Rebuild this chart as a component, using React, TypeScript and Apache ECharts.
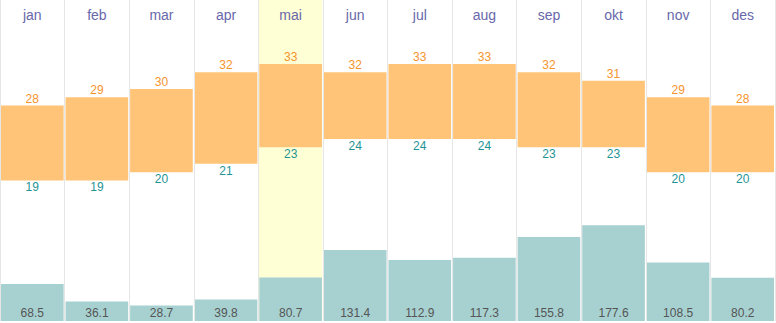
import React, { useEffect, useRef } from "react";
import * as echarts from "echarts";

const months = ["jan", "feb", "mar", "apr", "mai", "jun", "jul", "aug", "sep", "okt", "nov", "des"];
const maxTemp = [28, 29, 30, 32, 33, 32, 33, 33, 32, 31, 29, 28];
const minTemp = [19, 19, 20, 21, 23, 24, 24, 24, 23, 23, 20, 20];
const precip = [68.5, 36.1, 28.7, 39.8, 80.7, 131.4, 112.9, 117.3, 155.8, 177.6, 108.5, 80.2];
const highlightMonth = "mai";

const TEMP_MIN = 2.1;
const TEMP_MAX = 40.7;
const PRECIP_MAX = 595;

const FONT = "Arial, 'Liberation Sans', sans-serif";

export default function App() {
  const ref = useRef<HTMLDivElement>(null);

  useEffect(() => {
    if (!ref.current) return;
    const chart = echarts.init(ref.current, undefined, { renderer: "svg" });
    const range = maxTemp.map((v, i) => v - minTemp[i]);
    const highlight = months.map((m) => (m === highlightMonth ? PRECIP_MAX : "-"));

    chart.setOption({
      animation: false,
      textStyle: { fontFamily: FONT },
      grid: { left: 0, right: 1, top: 0, bottom: 2 },
      xAxis: [
        {
          type: "category",
          data: months,
          position: "top",
          axisLine: { show: false },
          axisTick: { show: false },
          axisLabel: {
            inside: true,
            margin: 8,
            fontSize: 14,
            color: "#6868aa",
            fontFamily: FONT,
          },
          splitLine: { show: true, lineStyle: { color: "#e6e6e6", width: 1 } },
          z: 10,
        },
        {
          type: "category",
          data: months,
          show: false,
        },
      ],
      yAxis: [
        { type: "value", min: TEMP_MIN, max: TEMP_MAX, show: false, splitLine: { show: false } },
        { type: "value", min: 0, max: PRECIP_MAX, show: false, splitLine: { show: false } },
      ],
      series: [
        {
          type: "bar",
          xAxisIndex: 1,
          yAxisIndex: 1,
          data: highlight,
          barWidth: "98.4%",
          itemStyle: { color: "#ffffd6" },
          silent: true,
          z: 1,
        },
        {
          type: "bar",
          name: "precip",
          xAxisIndex: 0,
          yAxisIndex: 1,
          data: precip,
          barWidth: "97%",
          barGap: "-100%",
          itemStyle: { color: "#a7d1d1" },
          label: {
            show: true,
            position: "insideBottom",
            distance: 2,
            fontSize: 12,
            color: "#555555",
            fontFamily: FONT,
          },
          z: 2,
        },
        {
          type: "bar",
          name: "base",
          xAxisIndex: 0,
          yAxisIndex: 0,
          stack: "t",
          data: minTemp,
          barWidth: "97%",
          itemStyle: { color: "rgba(0,0,0,0)" },
          label: {
            show: true,
            position: "insideTop",
            distance: 1,
            fontSize: 12,
            color: "#1f9494",
            fontFamily: FONT,
          },
          z: 3,
        },
        {
          type: "bar",
          name: "range",
          xAxisIndex: 0,
          yAxisIndex: 0,
          stack: "t",
          data: range,
          barWidth: "97%",
          barGap: "-100%",
          itemStyle: { color: "#ffc478" },
          label: {
            show: true,
            position: "top",
            distance: 1,
            fontSize: 12,
            color: "#f5942c",
            fontFamily: FONT,
            formatter: (p: any) => String(maxTemp[p.dataIndex]),
          },
          z: 3,
        },
      ],
    });
    return () => chart.dispose();
  }, []);

  return <div ref={ref} style={{ width: 776, height: 323, position: "absolute", left: 0, top: 0 }} />;
}
